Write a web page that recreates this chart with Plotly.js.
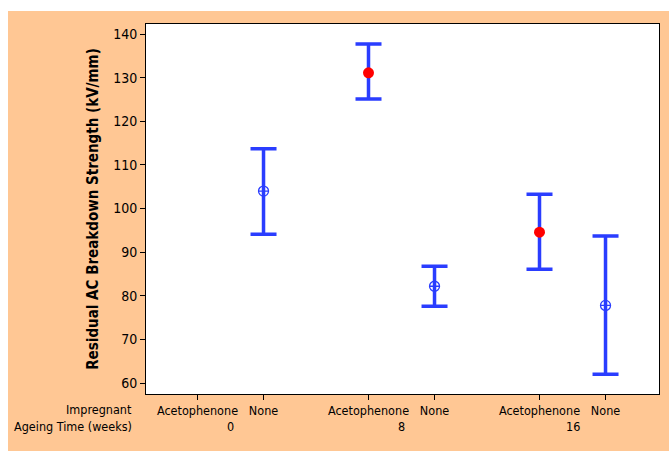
<!DOCTYPE html>
<html><head><meta charset="utf-8">
<script src="https://cdn.plot.ly/plotly-3.0.1.min.js"></script>
<style>html,body{margin:0;padding:0;background:#fff;}#c{position:absolute;left:8px;top:11px;width:661px;height:440px;}</style>
</head><body><div id="c"></div>
<script>
const ageing = ['0', '8', '16'];
const impregnant = ['Acetophenone', 'None'];
// per group (ageing), per impregnant: mean, upper, lower (null = no data)
const meanAcet = [null, 131.1, 94.6];
const upperAcet = [null, 137.7, 103.3];
const lowerAcet = [null, 125.1, 86.1];
const meanNone = [104.0, 82.2, 77.8];
const upperNone = [113.7, 86.8, 93.7];
const lowerNone = [94.1, 77.6, 62.0];

const groupStep = 2.59;
const pos = (g, i) => g * groupStep + i;
const blue = '#2a3dff';

function trace(means, ups, lows, idx, marker) {
  const x = [], y = [], ep = [], em = [];
  means.forEach((m, g) => {
    if (m === null) return;
    x.push(pos(g, idx)); y.push(m); ep.push(ups[g] - m); em.push(m - lows[g]);
  });
  return {x, y, type: 'scatter', mode: 'markers', marker,
    error_y: {type: 'data', symmetric: false, array: ep, arrayminus: em, color: blue, thickness: 3.5, width: 13},
    showlegend: false, hoverinfo: 'skip'};
}
const t1 = trace(meanAcet, upperAcet, lowerAcet, 0, {color: '#ff0000', size: 11, symbol: 'circle'});
const t2 = trace(meanNone, upperNone, lowerNone, 1, {color: blue, size: 10, symbol: 'circle-cross-open', line: {width: 1.3, color: blue}});

const tickvals = [], ticktext = [];
ageing.forEach((a, g) => impregnant.forEach((imp, i) => { tickvals.push(pos(g, i)); ticktext.push(imp); }));

const font = 'DejaVu Sans Condensed, DejaVu Sans, sans-serif';
const annotations = ageing.map((a, g) => ({
  x: pos(g, 0.5), xref: 'x', y: 0, yref: 'paper', yshift: -32, text: a, showarrow: false,
  font: {family: font, size: 12.5, color: '#000'}, xanchor: 'center', yanchor: 'middle'
}));
annotations.push({x: 0, xref: 'paper', xshift: -12, y: 0, yref: 'paper', yshift: -15, text: 'Impregnant', showarrow: false,
  font: {family: font, size: 12.5, color: '#000'}, xanchor: 'right', yanchor: 'middle'});
annotations.push({x: 0, xref: 'paper', xshift: -12, y: 0, yref: 'paper', yshift: -32, text: 'Ageing Time (weeks)', showarrow: false,
  font: {family: font, size: 12.5, color: '#000'}, xanchor: 'right', yanchor: 'middle'});

const layout = {
  width: 661, height: 440,
  margin: {l: 138, r: 10, t: 13, b: 57},
  paper_bgcolor: '#FFC794', plot_bgcolor: '#ffffff',
  xaxis: {range: [-0.78, 6.99], tickvals, ticktext, showgrid: false, zeroline: false,
    ticks: 'outside', ticklen: 5, tickcolor: '#000', showline: true, mirror: true, linecolor: '#000', linewidth: 1,
    tickfont: {family: font, size: 12.5, color: '#000'}},
  yaxis: {range: [57.5, 142.3], tickvals: [60,70,80,90,100,110,120,130,140], showgrid: false, zeroline: false,
    ticks: 'outside', ticklen: 5, tickcolor: '#000', showline: true, mirror: true, linecolor: '#000', linewidth: 1,
    tickfont: {family: font, size: 14, color: '#000'},
    title: {text: '<b>Residual AC Breakdown Strength (kV/mm)</b>', standoff: 10, font: {family: font, size: 15, color: '#000'}}},
  annotations
};
Plotly.newPlot('c', [t1, t2], layout, {staticPlot: true, displayModeBar: false});
</script></body></html>
